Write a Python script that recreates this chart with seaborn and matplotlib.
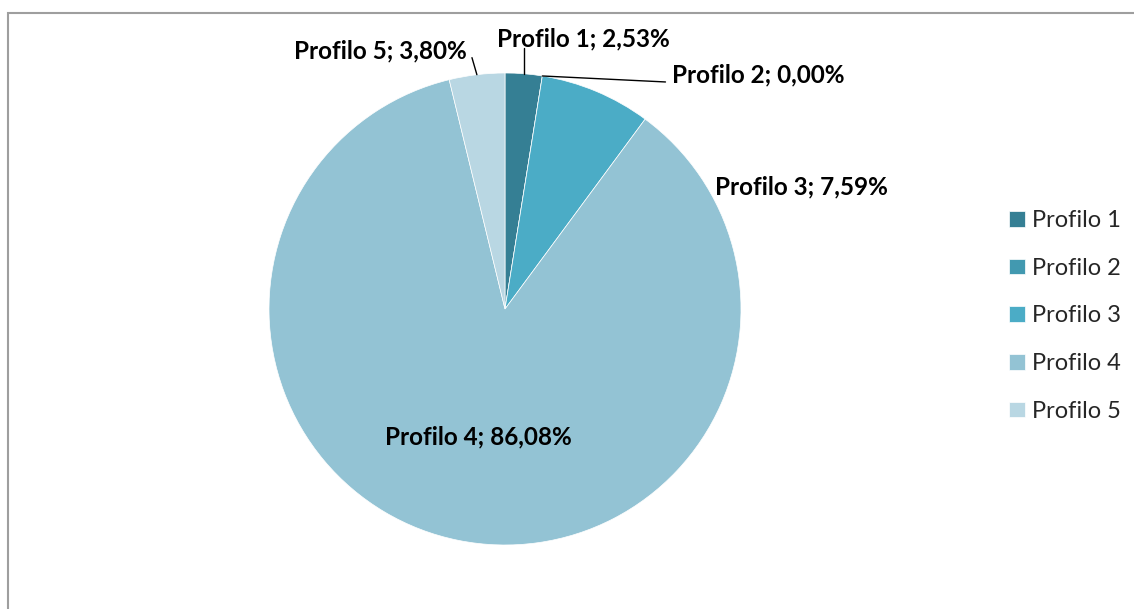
import numpy as np
import matplotlib
matplotlib.use("Agg")
import matplotlib.pyplot as plt
import seaborn as sns
from matplotlib.patches import Rectangle

# dati
categorie = ["Profilo 1", "Profilo 2", "Profilo 3", "Profilo 4", "Profilo 5"]
valori = [2.53, 0.00, 7.59, 86.08, 3.80]
colori = ["#357F94", "#4299B0", "#4BACC6", "#93C3D4", "#B9D7E3"]

sns.set_theme(style="white")
plt.rcParams['font.family'] = ['Lato', 'DejaVu Sans']

W, H = 1134, 609
fig = plt.figure(figsize=(W / 100, H / 100), dpi=100)
cx, cy, r = 505, 309, 236
ax = fig.add_axes([(cx - r) / W, (H - cy - r) / H, 2 * r / W, 2 * r / H])

pal = sns.color_palette(colori)
wedges, _ = ax.pie(valori, colors=pal, startangle=90, counterclock=False,
                   radius=1, wedgeprops=dict(linewidth=0.5, edgecolor="white"))
ax.set_xlim(-1, 1)
ax.set_ylim(-1, 1)

# angolo medio di ogni fetta
tot = sum(valori)
angoli = []
acc = 0
for v in valori:
    mid = 90 - (acc + v / 2) / tot * 360
    angoli.append(np.deg2rad(mid))
    acc += v

# posizione testi (coord. dati) e allineamento
pos_testo = [(0.33, 1.145, "center"), (0.707, 0.99, "left"), (0.89, 0.517, "left"),
             (-0.114, -0.542, "center"), (-0.53, 1.093, "center")]
# punti di gomito delle linee guida (None = nessuna linea)
gomiti = [(None, 1.105), (0.68, 0.962), None, None, (-0.14, 1.065)]

for i, (cat, v) in enumerate(zip(categorie, valori)):
    tx, ty, ha = pos_testo[i]
    etichetta = f"{cat}; {v:.2f}%".replace(".", ",")
    ax.text(tx, ty, etichetta, ha=ha, va="center", fontsize=17.5,
            fontweight="bold", color="black", clip_on=False)
    if gomiti[i] is not None:
        px, py = np.cos(angoli[i]), np.sin(angoli[i])
        gx, gy = gomiti[i]
        if gx is None:
            gx = px
        ax.plot([px, gx], [py, gy], color="black", lw=1, clip_on=False)

leg = fig.legend(wedges, categorie, loc="center left",
                 bbox_to_anchor=(988 / W, 1 - 316 / H), frameon=False,
                 fontsize=17, handlelength=0.65, handleheight=0.65,
                 handletextpad=0.3, labelspacing=1.13)

# bordo del grafico
fig.patches.append(Rectangle((8 / W, -0.05), 1.2, 1 - 13 / H + 0.05,
                             transform=fig.transFigure, fill=False,
                             edgecolor="#9E9E9E", lw=1.5))

fig.savefig("out.png", dpi=100)
